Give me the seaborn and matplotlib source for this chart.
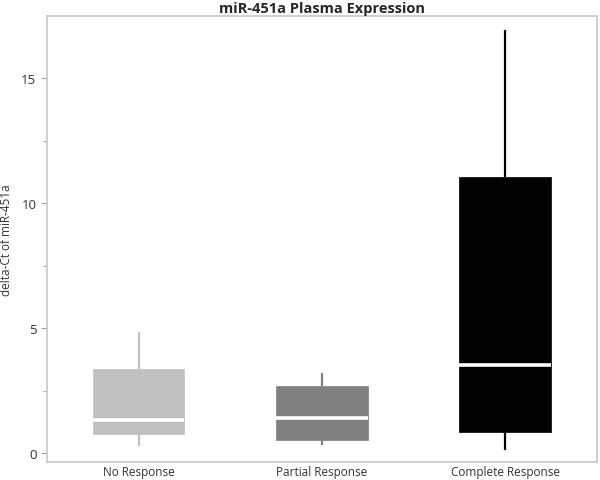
import pandas as pd
import numpy as np
import matplotlib
matplotlib.use("Agg")
import matplotlib.pyplot as plt
import seaborn as sns

# response groups and five-number summaries
groups = ["No Response", "Partial Response", "Complete Response"]
no_resp = [0.28, 0.77, 1.32, 3.39, 4.85]
partial_resp = [0.33, 0.55, 1.41, 2.68, 3.23]
complete_resp = [0.13, 0.87, 3.53, 11.07, 16.93]
colors = ["#c0c0c0", "#808080", "#000000"]

df = pd.DataFrame({
    "group": np.repeat(groups, 5),
    "dct": no_resp + partial_resp + complete_resp,
})

sns.set_style("white")
plt.rcParams["font.family"] = ["Open Sans", "DejaVu Sans"]

fig = plt.figure(figsize=(6, 4.81), dpi=100)
ax = fig.add_axes([0.078, 0.037, 0.917, 0.928])

for g, c in zip(groups, colors):
    sns.boxplot(data=df[df["group"] == g], x="group", y="dct", order=groups,
                color=c, linecolor=c, width=0.5, whis=(0, 100), showcaps=False,
                saturation=1, linewidth=1.6, showfliers=False,
                boxprops=dict(edgecolor=c, linewidth=0.5),
                medianprops=dict(color="white", linewidth=2.6), ax=ax)

ax.set_xlim(-0.5, 2.5)
ax.set_ylim(-0.35, 17.5)
ax.set_yticks([0, 5, 10, 15])
ax.set_yticks([2.5, 7.5, 12.5], minor=True)
ax.tick_params(axis="y", which="both", left=True, direction="out", length=4,
               color="#a0a0a0", labelsize=9.5, colors="#333333")
ax.tick_params(axis="y", which="minor", length=3)
ax.tick_params(axis="x", bottom=False, length=0, labelsize=8.5, colors="#333333", pad=2)
for s in ax.spines.values():
    s.set_color("#c8c8c8")
    s.set_linewidth(1.2)
ax.set_xlabel("")
ax.set_ylabel("delta-Ct of miR-451a", fontsize=8.5, color="#333333", labelpad=6)
ax.set_title("miR-451a Plasma Expression", fontsize=10.5, fontweight="bold", pad=3)

fig.savefig("out.png", dpi=100)
